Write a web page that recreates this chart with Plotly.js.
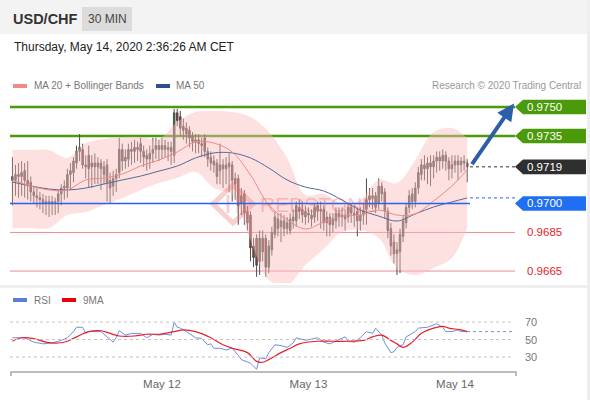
<!DOCTYPE html>
<html><head><meta charset="utf-8">
<script src="https://cdn.plot.ly/plotly-3.0.1.min.js"></script>
<style>html,body{margin:0;padding:0;background:#fff;}#chart{width:590px;height:400px;}</style>
</head><body><div id="chart"></div>
<script>
// ---------- DATA ----------
const pair = 'USD/CHF';
const timeframe = '30 MIN';
const stamp = 'Thursday, May 14, 2020 2:36:26 AM CET';
const firstCandle = '2020-05-10T23:30:00Z';   // 30-minute candles
const openP = [
0.9714,0.9712,0.9715,0.9714,0.9717,0.9712,0.9711,0.9706,0.9704,0.9703,
0.9702,0.9700,0.9701,0.9700,0.9701,0.9701,0.9705,0.9708,0.9708,0.9715,
0.9716,0.9721,0.9727,0.9728,0.9720,0.9725,0.9719,0.9721,0.9719,0.9721,
0.9715,0.9720,0.9712,0.9709,0.9713,0.9716,0.9728,0.9722,0.9723,0.9728,
0.9727,0.9729,0.9731,0.9727,0.9725,0.9723,0.9726,0.9728,0.9730,0.9728,
0.9730,0.9728,0.9729,0.9725,0.9747,0.9745,0.9740,0.9739,0.9738,0.9735,
0.9732,0.9733,0.9731,0.9734,0.9727,0.9724,0.9722,0.9721,0.9717,0.9720,
0.9718,0.9719,0.9720,0.9713,0.9713,0.9704,0.9705,0.9696,0.9694,0.9678,
0.9682,0.9670,0.9682,0.9682,0.9667,0.9676,0.9684,0.9692,0.9688,0.9691,
0.9687,0.9686,0.9691,0.9691,0.9698,0.9697,0.9693,0.9695,0.9694,0.9693,
0.9699,0.9696,0.9697,0.9690,0.9693,0.9689,0.9691,0.9695,0.9693,0.9694,
0.9693,0.9698,0.9695,0.9696,0.9691,0.9694,0.9697,0.9702,0.9704,0.9704,
0.9700,0.9709,0.9706,0.9696,0.9687,0.9680,0.9674,0.9675,0.9683,0.9690,
0.9698,0.9705,0.9701,0.9708,0.9715,0.9720,0.9718,0.9721,0.9719,0.9722,
0.9724,0.9722,0.9725,0.9722,0.9718,0.9720,0.9722,0.9720,0.9722,0.9721];
const highP = [
0.9724,0.9720,0.9721,0.9722,0.9721,0.9722,0.9714,0.9709,0.9708,0.9706,
0.9705,0.9704,0.9704,0.9704,0.9703,0.9707,0.9710,0.9712,0.9718,0.9721,
0.9724,0.9730,0.9736,0.9731,0.9725,0.9730,0.9725,0.9726,0.9724,0.9723,
0.9722,0.9723,0.9716,0.9717,0.9718,0.9734,0.9731,0.9728,0.9731,0.9732,
0.9733,0.9732,0.9734,0.9730,0.9728,0.9730,0.9734,0.9734,0.9733,0.9734,
0.9733,0.9732,0.9732,0.9749,0.9749,0.9748,0.9744,0.9742,0.9740,0.9737,
0.9736,0.9736,0.9734,0.9736,0.9729,0.9727,0.9725,0.9723,0.9731,0.9723,
0.9724,0.9726,0.9722,0.9716,0.9715,0.9708,0.9707,0.9699,0.9696,0.9682,
0.9684,0.9686,0.9686,0.9684,0.9681,0.9688,0.9696,0.9695,0.9695,0.9694,
0.9693,0.9695,0.9697,0.9701,0.9702,0.9701,0.9699,0.9698,0.9697,0.9700,
0.9701,0.9701,0.9699,0.9696,0.9695,0.9695,0.9698,0.9698,0.9698,0.9697,
0.9700,0.9700,0.9699,0.9698,0.9698,0.9700,0.9713,0.9708,0.9708,0.9706,
0.9713,0.9711,0.9708,0.9698,0.9690,0.9684,0.9680,0.9687,0.9694,0.9700,
0.9707,0.9708,0.9711,0.9719,0.9723,0.9725,0.9724,0.9725,0.9725,0.9727,
0.9727,0.9728,0.9727,0.9724,0.9725,0.9725,0.9725,0.9724,0.9725,0.9723];
const lowP = [
0.9699,0.9704,0.9703,0.9704,0.9703,0.9702,0.9701,0.9700,0.9698,0.9697,
0.9695,0.9694,0.9693,0.9694,0.9694,0.9695,0.9699,0.9702,0.9703,0.9707,
0.9711,0.9718,0.9722,0.9718,0.9713,0.9708,0.9708,0.9710,0.9710,0.9707,
0.9710,0.9701,0.9700,0.9704,0.9706,0.9713,0.9717,0.9718,0.9719,0.9720,
0.9721,0.9722,0.9721,0.9719,0.9717,0.9718,0.9721,0.9723,0.9722,0.9723,
0.9724,0.9722,0.9720,0.9721,0.9740,0.9735,0.9733,0.9731,0.9729,0.9727,
0.9726,0.9726,0.9724,0.9724,0.9719,0.9717,0.9716,0.9710,0.9710,0.9708,
0.9710,0.9706,0.9701,0.9702,0.9689,0.9694,0.9689,0.9686,0.9670,0.9667,
0.9662,0.9663,0.9670,0.9662,0.9664,0.9673,0.9682,0.9683,0.9680,0.9683,
0.9684,0.9684,0.9687,0.9688,0.9692,0.9690,0.9689,0.9690,0.9688,0.9690,
0.9691,0.9687,0.9686,0.9683,0.9683,0.9685,0.9687,0.9688,0.9688,0.9686,
0.9690,0.9690,0.9688,0.9683,0.9686,0.9689,0.9689,0.9698,0.9697,0.9695,
0.9697,0.9701,0.9692,0.9682,0.9673,0.9669,0.9663,0.9664,0.9680,0.9687,
0.9695,0.9697,0.9698,0.9705,0.9712,0.9712,0.9710,0.9709,0.9713,0.9716,
0.9717,0.9718,0.9717,0.9712,0.9713,0.9716,0.9712,0.9716,0.9717,0.9711];
const closeP = [
0.9712,0.9715,0.9714,0.9716,0.9712,0.9710,0.9706,0.9704,0.9703,0.9702,
0.9700,0.9701,0.9700,0.9701,0.9700,0.9705,0.9708,0.9709,0.9715,0.9717,
0.9722,0.9727,0.9729,0.9720,0.9719,0.9718,0.9721,0.9719,0.9721,0.9718,
0.9719,0.9711,0.9708,0.9713,0.9715,0.9728,0.9722,0.9724,0.9728,0.9727,
0.9729,0.9728,0.9727,0.9724,0.9723,0.9726,0.9728,0.9730,0.9728,0.9730,
0.9728,0.9729,0.9727,0.9747,0.9743,0.9739,0.9738,0.9736,0.9734,0.9732,
0.9733,0.9731,0.9730,0.9727,0.9723,0.9721,0.9720,0.9714,0.9720,0.9718,
0.9720,0.9721,0.9712,0.9710,0.9699,0.9700,0.9695,0.9690,0.9677,0.9672,
0.9668,0.9682,0.9675,0.9667,0.9678,0.9685,0.9693,0.9687,0.9691,0.9687,
0.9690,0.9692,0.9693,0.9699,0.9696,0.9694,0.9696,0.9694,0.9692,0.9698,
0.9696,0.9697,0.9690,0.9693,0.9689,0.9692,0.9695,0.9693,0.9694,0.9692,
0.9698,0.9695,0.9694,0.9691,0.9694,0.9696,0.9702,0.9704,0.9703,0.9698,
0.9709,0.9705,0.9696,0.9686,0.9678,0.9674,0.9676,0.9684,0.9691,0.9698,
0.9704,0.9701,0.9708,0.9716,0.9720,0.9718,0.9721,0.9719,0.9722,0.9724,
0.9722,0.9725,0.9722,0.9718,0.9720,0.9722,0.9720,0.9722,0.9721,0.9719];

// indicator samples (candle index -> value)
const bandIdx = [0,6,12,18,24,30,36,42,48,54,60,66,72,78,84,90,96,102,108,114,120,126,132,138,144,149];
const bbUpper = [0.97277,0.97277,0.97277,0.97236,0.97313,0.97334,0.97345,0.97345,0.97334,0.97422,0.97474,0.97479,0.97474,0.97448,0.97370,0.97236,0.97044,0.97049,0.96997,0.97018,0.97122,0.97106,0.97225,0.97370,0.97391,0.97339];
const bbLower = [0.96873,0.96873,0.96873,0.96940,0.96956,0.96992,0.97029,0.97070,0.97106,0.97132,0.97163,0.97080,0.97044,0.96811,0.96604,0.96578,0.96681,0.96764,0.96852,0.96863,0.96821,0.96666,0.96630,0.96666,0.96718,0.96873];
const ma20 = [0.97122,0.97091,0.97070,0.97070,0.97122,0.97132,0.97153,0.97194,0.97225,0.97267,0.97319,0.97313,0.97267,0.97148,0.96992,0.96915,0.96868,0.96904,0.96935,0.96940,0.96966,0.96940,0.96946,0.97013,0.97091,0.97174];
const ma50 = [0.97111,0.97091,0.97075,0.97070,0.97080,0.97101,0.97122,0.97142,0.97168,0.97194,0.97236,0.97262,0.97262,0.97236,0.97184,0.97122,0.97085,0.97065,0.97018,0.96966,0.96935,0.96909,0.96946,0.96982,0.97008,0.97029];

const rsiIdx = [0,4,7,10,13,16,18,20,21,23,24,25,29,31,33,34,35,37,39,42,44,46,48,50,52,53,54,55,57,60,62,64,65,66,68,70,72,74,75,78,80,81,83,84,86,88,90,92,93,94,96,100,102,104,106,109,110,112,114,116,118,119,121,122,124,125,126,128,129,132,133,136,139,141,142,144,146,147,149];
const rsiVal = [52,52,47,45,46,49,52,59,64,64,57,59,59,53,47,52,60,55,57,57,52,56,55,56,55,70,64,63,59,52,51,44,45,40,40,38,40,32,27,23,16,29,28,35,44,43,41,46,52,51,49,52,47,45,48,53,48,47,52,59,57,63,55,46,35,36,41,44,53,59,63,64,68,64,59,59,61,59,59];
const ma9Idx = [0,3,7,11,15,18,21,25,29,32,35,40,44,48,53,56,60,65,69,72,77,80,82,84,88,91,94,100,105,110,115,118,121,124,126,128,131,134,138,141,143,147,149];
const ma9Val = [48,52,51,47,46,48,53,59,60,57,54,54,56,56,59,61,59,52,44,40,35,25,24,27,35,40,45,48,48,48,49,53,55,49,45,41,47,57,63,65,63,61,59];
const rsiLevels = [70, 50, 30];

const levels = [0.9750, 0.9735, 0.9719, 0.9700, 0.9685, 0.9665];
const levelKind = ['res', 'res', 'last', 'pivot', 'sup', 'sup'];

const dayTicks = ['2020-05-12', '2020-05-13', '2020-05-14'];
const dayLabels = ['May 12', 'May 13', 'May 14'];
const legendMain = ['MA 20 + Bollinger Bands', 'MA 50'];
const legendRsi = ['RSI', '9MA'];
const credit = 'Research © 2020 Trading Central';
const watermark = 'REDSTONE';

// ---------- LAYOUT HELPERS ----------
const W = 590, H = 400;
const X = p => p / W, Y = p => 1 - p / H;
const FONT = 'Liberation Sans, Arial, sans-serif';
const t0 = Date.parse(firstCandle);
const times = closeP.map((_, i) => new Date(t0 + i * 1800000).toISOString().slice(0, 16).replace('T', ' '));
const at = idx => idx.map(i => times[i]);
const xRange = ['2020-05-10 23:06', '2020-05-14 10:00'];
const pxPerPip = 1.93;
const hb = 7.3 / pxPerPip * 0.0001;

const style = {
  res:   {line: '#4a9a0a', width: 2.5, box: '#4a9a0a', text: '#fff'},
  last:  {line: '#333333', width: 1, box: '#2f2f2f', text: '#fff'},
  pivot: {line: '#2a62f0', width: 1.3, box: '#1f6ff2', text: '#fff'},
  sup:   {line: '#ef8a92', width: 1, box: null, text: '#e0242c'}
};

const traces = [
  {type: 'scatter', x: at(bandIdx), y: bbUpper, mode: 'lines', line: {width: 0, shape: 'spline'}, hoverinfo: 'skip', xaxis: 'x', yaxis: 'y'},
  {type: 'scatter', x: at(bandIdx), y: bbLower, mode: 'lines', line: {width: 0, shape: 'spline'}, fill: 'tonexty', fillcolor: 'rgba(250,188,188,0.45)', hoverinfo: 'skip', xaxis: 'x', yaxis: 'y'},
  {type: 'scatter', x: at(bandIdx), y: ma50, mode: 'lines', line: {width: 1, color: '#56699a', shape: 'spline'}, hoverinfo: 'skip', xaxis: 'x', yaxis: 'y'},
  {type: 'scatter', x: at(bandIdx), y: ma20, mode: 'lines', line: {width: 1, color: '#f08888', shape: 'spline'}, hoverinfo: 'skip', xaxis: 'x', yaxis: 'y'},
  {type: 'candlestick', x: times, open: openP, high: highP, low: lowP, close: closeP,
   increasing: {line: {color: '#4d4d4d', width: 1}, fillcolor: '#2e7d32'},
   decreasing: {line: {color: '#4d4d4d', width: 1}, fillcolor: '#c62828'},
   whiskerwidth: 0, hoverinfo: 'skip', xaxis: 'x', yaxis: 'y'},
  {type: 'scatter', x: at(rsiIdx), y: rsiVal, mode: 'lines', line: {width: 1, color: '#6f8fdc'}, hoverinfo: 'skip', xaxis: 'x2', yaxis: 'y2'},
  {type: 'scatter', x: at(ma9Idx), y: ma9Val, mode: 'lines', line: {width: 1.2, color: '#e8202a', shape: 'spline'}, hoverinfo: 'skip', xaxis: 'x2', yaxis: 'y2'}
];

const shapes = [
  {type: 'rect', xref: 'paper', yref: 'paper', x0: 0, x1: 1, y0: Y(34), y1: 1, fillcolor: '#f3f3f3', line: {width: 0}, layer: 'below'},
  {type: 'rect', xref: 'paper', yref: 'paper', x0: X(82), x1: X(132), y0: Y(31), y1: Y(7), fillcolor: '#dcdcdc', line: {width: 0}, layer: 'below'},
  {type: 'rect', xref: 'paper', yref: 'paper', x0: 0, x1: X(587), y0: Y(288), y1: Y(285), fillcolor: '#eeeeee', line: {width: 0}, layer: 'below'},
  {type: 'rect', xref: 'paper', yref: 'paper', x0: X(587), x1: 1, y0: 0, y1: 1, fillcolor: '#eeeeee', line: {width: 0}, layer: 'below'},
  // legend markers
  {type: 'rect', xref: 'paper', yref: 'paper', x0: X(13), x1: X(27), y0: Y(88), y1: Y(84), fillcolor: '#f28a8a', line: {width: 0}},
  {type: 'rect', xref: 'paper', yref: 'paper', x0: X(156), x1: X(170), y0: Y(88), y1: Y(84), fillcolor: '#2d4f8e', line: {width: 0}},
  {type: 'rect', xref: 'paper', yref: 'paper', x0: X(13), x1: X(27), y0: Y(302), y1: Y(298), fillcolor: '#5c80d6', line: {width: 0}},
  {type: 'rect', xref: 'paper', yref: 'paper', x0: X(62), x1: X(76), y0: Y(302), y1: Y(298), fillcolor: '#e8000b', line: {width: 0}},
  // watermark logo
  {type: 'path', xref: 'paper', yref: 'paper', path: `M ${X(213)},${Y(204)} L ${X(233)},${Y(185)} L ${X(253)},${Y(204)} L ${X(233)},${Y(223)} Z`, line: {color: 'rgba(235,110,110,0.32)', width: 5}},
  {type: 'path', xref: 'paper', yref: 'paper', path: `M ${X(228)},${Y(195)} L ${X(228)},${Y(213)} M ${X(238)},${Y(195)} L ${X(238)},${Y(213)}`, line: {color: 'rgba(235,110,110,0.32)', width: 3}},
  // bottom axis line
  {type: 'path', xref: 'paper', yref: 'paper', path: `M ${X(11)},${Y(376)} L ${X(11)},${Y(372)} L ${X(516)},${Y(372)} L ${X(516)},${Y(376)}`, line: {color: '#a8a8a8', width: 1.5}}
];

rsiLevels.forEach(v => shapes.push({type: 'line', xref: 'paper', yref: 'y2', x0: X(10), x1: X(513), y0: v, y1: v, line: {color: '#c4c4c4', width: 1, dash: 'dot'}}));
const rsiLast = rsiVal[rsiVal.length - 1];
shapes.push({type: 'line', xref: 'paper', yref: 'y2', x0: X(467), x1: X(513), y0: rsiLast, y1: rsiLast, line: {color: '#7d8fc4', width: 1, dash: 'dot'}});

const annotations = [
  {text: '<b>' + pair + '</b>', x: X(11), y: Y(19), font: {size: 14.5, color: '#333'}, xanchor: 'left'},
  {text: timeframe, x: X(107), y: Y(19), font: {size: 12, color: '#444'}, xanchor: 'center'},
  {text: stamp, x: X(12), y: Y(47), font: {size: 12, color: '#222'}, xanchor: 'left'},
  {text: legendMain[0], x: X(32), y: Y(86), font: {size: 10, color: '#777'}, xanchor: 'left'},
  {text: legendMain[1], x: X(174), y: Y(86), font: {size: 10, color: '#777'}, xanchor: 'left'},
  {text: credit, x: X(583), y: Y(86), font: {size: 10, color: '#999'}, xanchor: 'right'},
  {text: legendRsi[0], x: X(32), y: Y(300), font: {size: 10, color: '#777'}, xanchor: 'left'},
  {text: legendRsi[1], x: X(81), y: Y(300), font: {size: 10, color: '#777'}, xanchor: 'left'},
  {text: watermark, x: X(318), y: Y(204), font: {size: 21, color: 'rgba(230,85,85,0.33)'}, xanchor: 'center'}
].map(a => Object.assign({xref: 'paper', yref: 'paper', yanchor: 'middle', showarrow: false}, a));

rsiLevels.forEach(v => annotations.push({xref: 'paper', yref: 'y2', x: X(523), y: v, text: String(v), showarrow: false, xanchor: 'left', yanchor: 'middle', font: {size: 11, color: '#777'}}));

const ma50Last = ma50[ma50.length - 1];
levels.forEach((v, k) => {
  const s = style[levelKind[k]];
  const kind = levelKind[k];
  if (kind === 'res' || kind === 'sup') {
    shapes.push({type: 'line', xref: 'paper', yref: 'y', x0: X(10), x1: X(515), y0: v, y1: v, line: {color: s.line, width: s.width}, layer: 'below'});
  } else if (kind === 'last') {
    shapes.push({type: 'line', xref: 'paper', yref: 'y', x0: X(470), x1: X(515), y0: v, y1: v, line: {color: s.line, width: 1, dash: 'dot'}});
  } else {
    shapes.push({type: 'line', xref: 'paper', yref: 'y', x0: X(10), x1: X(470), y0: v, y1: v, line: {color: s.line, width: s.width}, layer: 'above'});
    shapes.push({type: 'line', xref: 'paper', yref: 'y', x0: X(470), x1: X(515), y0: ma50Last, y1: ma50Last, line: {color: s.line, width: 1, dash: 'dot'}});
  }
  if (s.box) {
    shapes.push({type: 'path', xref: 'paper', yref: 'y', fillcolor: s.box, line: {width: 0},
      path: `M ${X(515)},${v} L ${X(523)},${v + hb} L ${X(586)},${v + hb} L ${X(586)},${v - hb} L ${X(523)},${v - hb} Z`});
  }
  annotations.push({xref: 'paper', yref: 'y', x: X(525), y: v, text: v.toFixed(4), showarrow: false, xanchor: 'left', yanchor: 'middle', font: {size: 11.5, color: s.text}});
});

// forecast arrow
annotations.push({xref: 'paper', yref: 'y', x: X(514), y: levels[0] + 0.00018, text: '', showarrow: true,
  ax: -43, ay: 62, arrowhead: 2, arrowsize: 0.85, arrowwidth: 4, arrowcolor: '#2d5fa8', standoff: 0});

const layout = {
  width: W, height: H, margin: {l: 0, r: 0, t: 0, b: 0},
  paper_bgcolor: '#ffffff', plot_bgcolor: 'rgba(0,0,0,0)', showlegend: false,
  font: {family: FONT},
  xaxis: {domain: [X(10), X(516)], range: xRange, type: 'date', visible: false, rangeslider: {visible: false}, fixedrange: true},
  yaxis: {domain: [Y(283), Y(97)], range: [0.965881, 0.975518], visible: false, fixedrange: true},
  xaxis2: {domain: [X(10), X(516)], range: xRange, type: 'date', anchor: 'y2', showgrid: false, zeroline: false, showline: false,
           ticks: '', tickmode: 'array', tickvals: dayTicks, ticktext: dayLabels, ticklabelstandoff: 3,
           tickfont: {size: 11.5, color: '#666', family: FONT}, fixedrange: true},
  yaxis2: {domain: [Y(372), Y(310)], range: [12.86, 83.71], visible: false, fixedrange: true},
  shapes: shapes, annotations: annotations
};

Plotly.newPlot('chart', traces, layout, {staticPlot: true, displayModeBar: false});
</script>
</body></html>
